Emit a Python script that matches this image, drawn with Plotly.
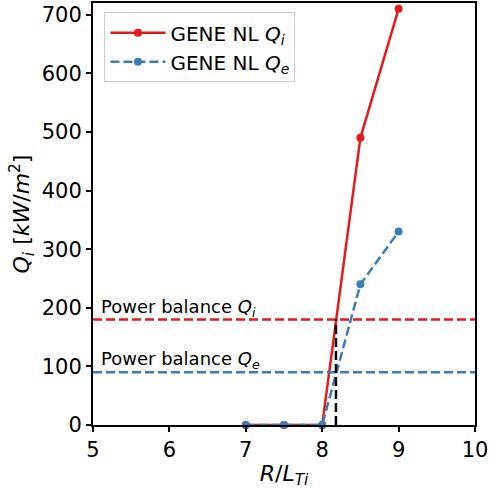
import plotly.graph_objects as go

x_vals = [7.0, 7.5, 8.0, 8.5, 9.0]
qi_vals = [0, 0, 0, 490, 710]
qe_vals = [0, 0, 0, 240, 330]
pb_qi = 180
pb_qe = 90
x_cross = 8.18

RED = "#e41a1c"
BLUE = "#377eb8"
FONT = "DejaVu Sans"
DASH = "9px,4px"

fig = go.Figure()
fig.add_trace(go.Scatter(x=x_vals, y=qi_vals, mode="lines+markers",
                         line=dict(color=RED, width=2.5),
                         marker=dict(size=8, color=RED),
                         name="GENE NL <i>Q<sub>i</sub></i>", cliponaxis=False))
fig.add_trace(go.Scatter(x=x_vals, y=qe_vals, mode="lines+markers",
                         line=dict(color=BLUE, width=2.5, dash=DASH),
                         marker=dict(size=8, color=BLUE),
                         name="GENE NL <i>Q<sub>e</sub></i>", cliponaxis=False))
fig.add_trace(go.Scatter(x=[5, 10], y=[pb_qi, pb_qi], mode="lines",
                         line=dict(color=RED, width=2.5, dash=DASH), showlegend=False))
fig.add_trace(go.Scatter(x=[5, 10], y=[pb_qe, pb_qe], mode="lines",
                         line=dict(color=BLUE, width=2.5, dash=DASH), showlegend=False))
fig.add_trace(go.Scatter(x=[x_cross, x_cross], y=[0, pb_qi], mode="lines",
                         line=dict(color="black", width=2.5, dash=DASH), showlegend=False))

fig.add_annotation(x=5.08, y=pb_qi, text="Power balance <i>Q<sub>i</sub></i>", showarrow=False,
                   xanchor="left", yanchor="bottom", yshift=-2,
                   font=dict(size=18, color="black", family=FONT))
fig.add_annotation(x=5.08, y=pb_qe, text="Power balance <i>Q<sub>e</sub></i>", showarrow=False,
                   xanchor="left", yanchor="bottom", yshift=-2,
                   font=dict(size=18, color="black", family=FONT))

axis_common = dict(showgrid=False, zeroline=False, showline=True, linecolor="black", linewidth=2,
                   mirror=True, ticks="outside", ticklen=5, tickwidth=1.5, tickcolor="black",
                   automargin=False,
                   tickfont=dict(size=21, family=FONT, color="black"))
fig.update_xaxes(range=[5, 10], dtick=1, title=dict(text="<i>R</i>/<i>L<sub>Ti</sub></i>",
                 font=dict(size=22, family=FONT, color="black"), standoff=4), **axis_common)
fig.update_yaxes(range=[0, 720], dtick=100, title=dict(text="<i>Q<sub>i</sub></i> [<i>kW</i>/<i>m</i><sup>2</sup>]",
                 font=dict(size=22, family=FONT, color="black"), standoff=6), **axis_common)

fig.update_layout(width=490, height=491, margin=dict(l=93, r=15, t=3, b=66),
                  plot_bgcolor="white", paper_bgcolor="white",
                  font=dict(family=FONT, color="black"),
                  legend=dict(x=0.03, y=0.978, xanchor="left", yanchor="top",
                              bgcolor="rgba(255,255,255,0.85)", bordercolor="#cccccc", borderwidth=1,
                              font=dict(size=20, family=FONT, color="black"),
                              itemwidth=55, tracegroupgap=0))
fig.write_html("out.html", config={"displayModeBar": False},
               post_script="document.body.style.margin='0';document.body.style.overflow='hidden';")
